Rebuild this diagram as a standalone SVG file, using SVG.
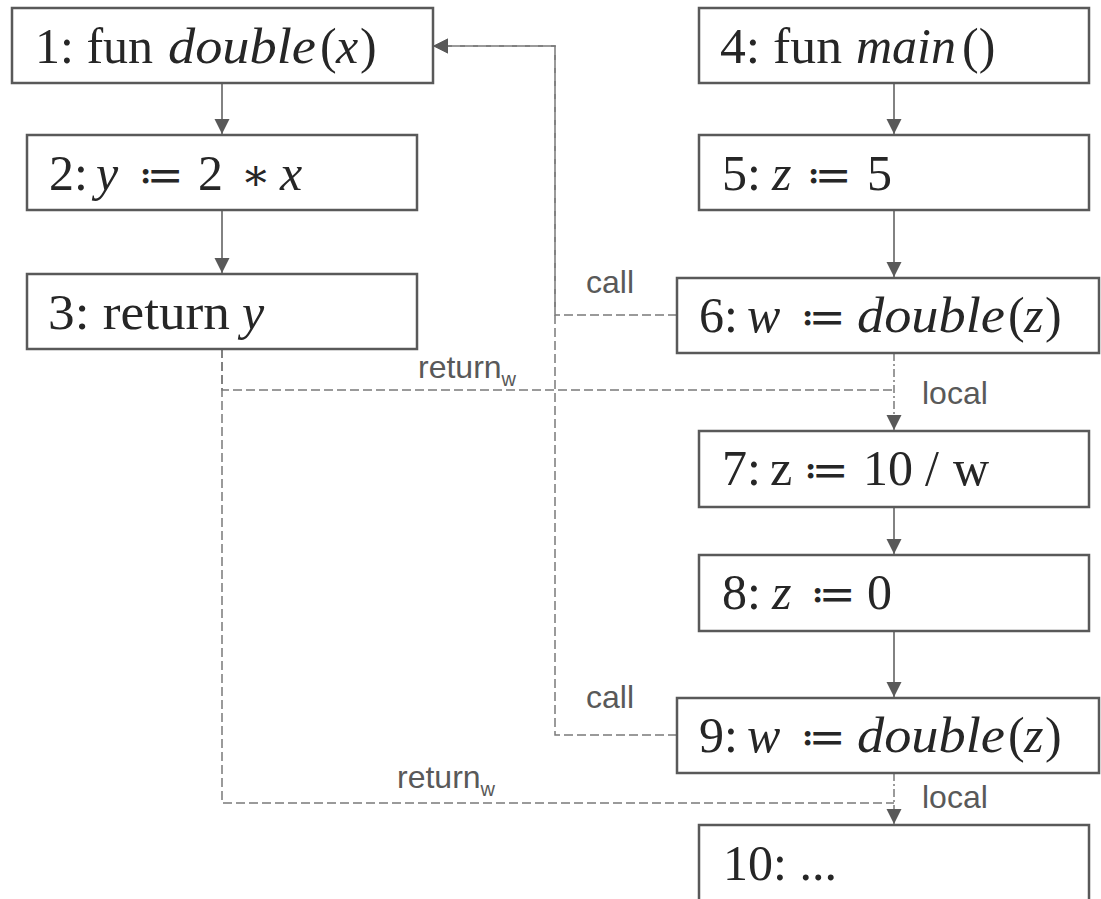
<svg xmlns="http://www.w3.org/2000/svg" width="1101" height="899" viewBox="0 0 1101 899">
<style>
.box{fill:#fff;stroke:#595959;stroke-width:2.5}
.t{font-family:"Liberation Serif","Times New Roman",serif;font-size:50px;fill:#262626}
.i{font-style:italic}
.op{font-family:"DejaVu Serif",serif;font-size:44px}
.lbl{font-family:"Liberation Sans",Arial,sans-serif;font-size:32px;fill:#595959}
.sub{font-size:20px}
.solid{fill:none;stroke:#595959;stroke-width:1.5}
.dash{fill:none;stroke:#7a7a7a;stroke-width:1.5;stroke-dasharray:9 4}
.dd{fill:none;stroke:#7a7a7a;stroke-width:1.5;stroke-dasharray:8 3 2 3}
</style>
<defs>
<marker id="ah" markerUnits="userSpaceOnUse" markerWidth="16" markerHeight="16" refX="15" refY="7.5" orient="auto" viewBox="0 0 16 16">
<path d="M0,0 L15,7.5 L0,15 Z" fill="#595959"/>
</marker>
</defs>
<g id="connectors">
<path class="solid" d="M222,83 V134" marker-end="url(#ah)"/>
<path class="solid" d="M222,210 V273" marker-end="url(#ah)"/>
<path class="solid" d="M894,83 V134" marker-end="url(#ah)"/>
<path class="solid" d="M894,210 V277" marker-end="url(#ah)"/>
<path class="solid" d="M894,507 V554" marker-end="url(#ah)"/>
<path class="solid" d="M894,631 V697" marker-end="url(#ah)"/>
<path class="dash" d="M677,315 H555 V46 H433" marker-end="url(#ah)"/>
<path class="dash" d="M677,735 H555 V46 H433" marker-end="url(#ah)"/>
<path class="dash" d="M222,349 V390 H894"/>
<path class="dash" d="M222,349 V803 H894"/>
<path class="dd" d="M894,353 V430" marker-end="url(#ah)"/>
<path class="dd" d="M894,773 V824" marker-end="url(#ah)"/>
<text class="lbl" x="586" y="293">call</text>
<text class="lbl" x="586" y="708">call</text>
<text class="lbl" x="418" y="378">return<tspan class="sub" dy="8">w</tspan></text>
<text class="lbl" x="397" y="788">return<tspan class="sub" dy="8">w</tspan></text>
<text class="lbl" x="922" y="404">local</text>
<text class="lbl" x="922" y="808">local</text>
</g>
<g id="n1">
<rect class="box" x="12" y="8" width="421" height="75"/>
<text class="t" y="63"><tspan x="35">1: fun</tspan><tspan class="i" x="168" textLength="148" lengthAdjust="spacingAndGlyphs">double</tspan><tspan x="320">(</tspan><tspan class="i" x="336">x</tspan><tspan x="360">)</tspan></text>
</g>
<g id="n2">
<rect class="box" x="27" y="135" width="390" height="75"/>
<text class="t" y="190"><tspan x="49">2:</tspan><tspan class="i" x="96">y</tspan><tspan class="op" x="138">≔</tspan><tspan x="198">2</tspan><tspan class="op" x="241">∗</tspan><tspan class="i" x="280">x</tspan></text>
</g>
<g id="n3">
<rect class="box" x="27" y="274" width="390" height="75"/>
<text class="t" y="329"><tspan x="48" textLength="182" lengthAdjust="spacingAndGlyphs">3: return</tspan><tspan class="i" x="242">y</tspan></text>
</g>
<g id="n4">
<rect class="box" x="699" y="8" width="390" height="75"/>
<text class="t" y="63"><tspan x="720" textLength="122" lengthAdjust="spacingAndGlyphs">4: fun</tspan><tspan class="i" x="856">main</tspan><tspan x="962">()</tspan></text>
</g>
<g id="n5">
<rect class="box" x="699" y="135" width="390" height="75"/>
<text class="t" y="190"><tspan x="722">5:</tspan><tspan class="i" x="772">z</tspan><tspan class="op" x="806">≔</tspan><tspan x="867">5</tspan></text>
</g>
<g id="n6">
<rect class="box" x="677" y="278" width="422" height="75"/>
<text class="t" y="332"><tspan x="699">6:</tspan><tspan class="i" x="747">w</tspan><tspan class="op" x="800">≔</tspan><tspan class="i" x="857" textLength="148" lengthAdjust="spacingAndGlyphs">double</tspan><tspan x="1008">(</tspan><tspan class="i" x="1024">z</tspan><tspan x="1045">)</tspan></text>
</g>
<g id="n7">
<rect class="box" x="699" y="431" width="390" height="76"/>
<text class="t" y="485"><tspan x="722">7:</tspan><tspan x="770">z</tspan><tspan class="op" x="803">≔</tspan><tspan x="863">10</tspan><tspan x="925">/</tspan><tspan x="953">w</tspan></text>
</g>
<g id="n8">
<rect class="box" x="699" y="555" width="390" height="76"/>
<text class="t" y="609"><tspan x="722">8:</tspan><tspan class="i" x="772">z</tspan><tspan class="op" x="810">≔</tspan><tspan x="867">0</tspan></text>
</g>
<g id="n9">
<rect class="box" x="677" y="698" width="422" height="75"/>
<text class="t" y="752"><tspan x="699">9:</tspan><tspan class="i" x="747">w</tspan><tspan class="op" x="800">≔</tspan><tspan class="i" x="857" textLength="148" lengthAdjust="spacingAndGlyphs">double</tspan><tspan x="1008">(</tspan><tspan class="i" x="1024">z</tspan><tspan x="1045">)</tspan></text>
</g>
<g id="n10">
<rect class="box" x="699" y="825" width="390" height="90"/>
<text class="t" x="723" y="880">10: ...</text>
</g>
</svg>
